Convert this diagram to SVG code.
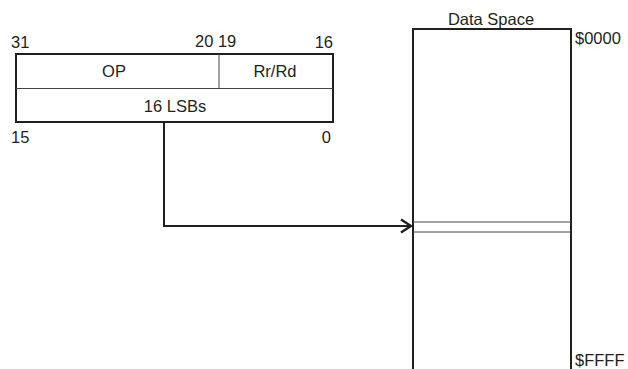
<svg xmlns="http://www.w3.org/2000/svg" width="628" height="369" viewBox="0 0 628 369">
<style>
text{font-family:"Liberation Sans",Arial,sans-serif;font-size:16.5px;fill:#231f20}
.thick{fill:none;stroke:#231f20;stroke-width:2}
.thin{fill:none;stroke:#444;stroke-width:1}
</style>
<defs>
<marker id="arr" viewBox="0 0 12 16" refX="11" refY="8" markerWidth="12" markerHeight="16" markerUnits="userSpaceOnUse" orient="auto">
<path d="M1,1.5 L11,8 L1,14.5" fill="none" stroke="#231f20" stroke-width="2.5"/>
</marker>
</defs>
<rect width="628" height="369" fill="#fff"/>
<g id="instruction">
<rect class="thick" x="16" y="54" width="317" height="68"/>
<line class="thin" x1="16" y1="88.5" x2="333" y2="88.5"/>
<line class="thin" x1="219" y1="54" x2="219" y2="88.5"/>
<text x="114" y="77" text-anchor="middle">OP</text>
<text x="275" y="77" text-anchor="middle">Rr/Rd</text>
<text x="175" y="112" text-anchor="middle">16 LSBs</text>
<text x="11" y="48">31</text>
<text x="195" y="47">20 19</text>
<text x="333" y="48" text-anchor="end">16</text>
<text x="11" y="143">15</text>
<text x="331" y="143" text-anchor="end">0</text>
</g>
<g id="dataspace">
<path class="thick" d="M413,369 V29 H571 V369"/>
<line class="thin" x1="413" y1="222" x2="571" y2="222"/>
<line class="thin" x1="413" y1="232" x2="571" y2="232"/>
<text x="491" y="25" text-anchor="middle">Data Space</text>
<text x="575" y="44">$0000</text>
<text x="575" y="366">$FFFF</text>
</g>
<g id="connectors">
<path class="thick" d="M164,122 V226 H411" marker-end="url(#arr)"/>
</g>
</svg>
